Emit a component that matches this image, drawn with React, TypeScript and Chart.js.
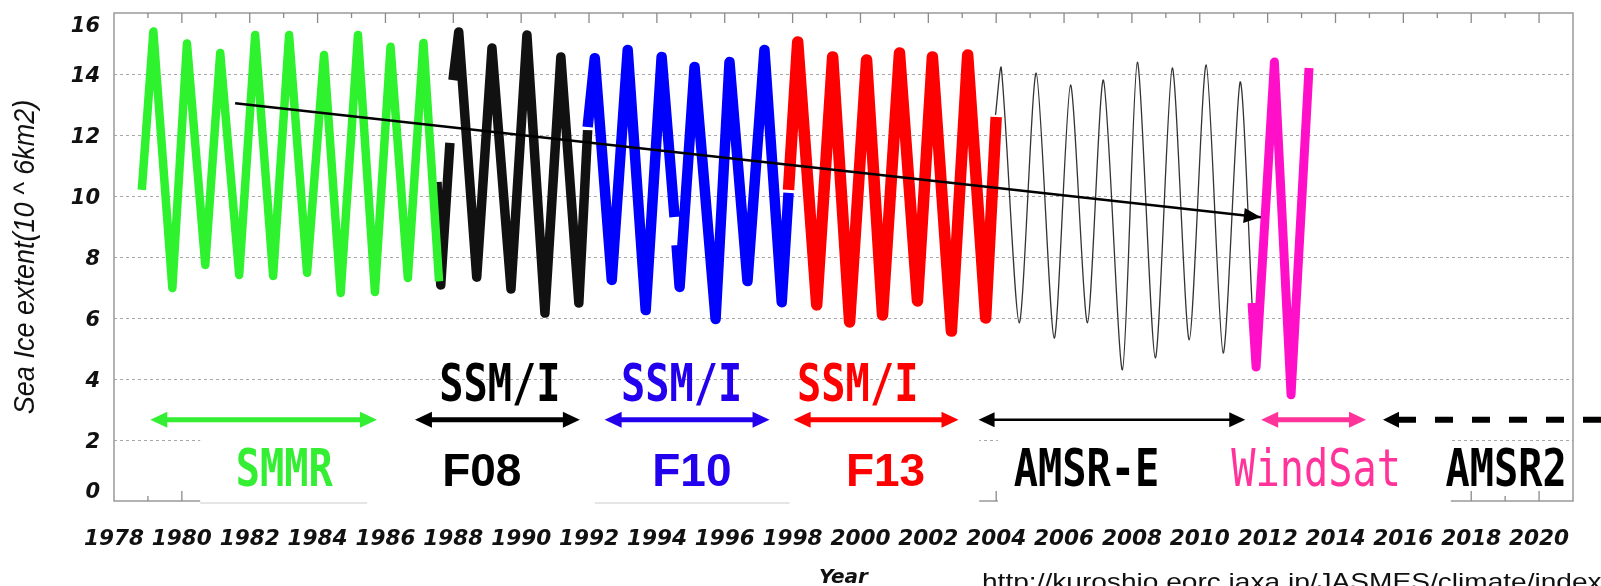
import React, { useEffect, useRef } from "react";
import { Chart, registerables } from "chart.js";

Chart.register(...registerables);

// ---------------- data ----------------
const smmrYears = [1978.82, 1979.16, 1979.72, 1980.15, 1980.69, 1981.13, 1981.69, 1982.16, 1982.69, 1983.16, 1983.69, 1984.19, 1984.68, 1985.19, 1985.69, 1986.15, 1986.66, 1987.12, 1987.58];
const smmrExtent = [10.2, 15.39, 6.98, 15.0, 7.74, 14.69, 7.41, 15.28, 7.38, 15.28, 7.48, 14.62, 6.82, 15.28, 6.85, 14.89, 7.31, 15.02, 7.2];

const f08Years = [1987.52, 1987.63, 1987.9, 1987.95, 1987.99, 1988.16, 1988.69, 1989.14, 1989.7, 1990.17, 1990.7, 1991.17, 1991.7, 1991.96];
const f08Extent = [10.46, 7.08, 11.74, null, 13.8, 15.38, 7.34, 14.85, 6.95, 15.28, 6.16, 14.56, 6.49, 12.16];

const f10Years = [1991.96, 1992.17, 1992.67, 1993.14, 1993.67, 1994.14, 1994.52, 1994.55, 1994.58, 1994.67, 1995.11, 1995.73, 1996.14, 1996.67, 1997.17, 1997.68, 1997.88];
const f10Extent = [12.26, 14.52, 7.25, 14.79, 6.26, 14.56, 9.31, null, 8.39, 7.02, 14.23, 5.97, 14.39, 7.21, 14.79, 6.52, 10.1];

const f13Years = [1997.88, 1998.15, 1998.71, 1999.18, 1999.68, 2000.18, 2000.65, 2001.15, 2001.68, 2002.12, 2002.68, 2003.16, 2003.69, 2004.0];
const f13Extent = [10.2, 15.05, 6.43, 14.56, 5.87, 14.46, 6.1, 14.69, 6.56, 14.56, 5.57, 14.62, 6.0, 12.59];

const amsreYears = [2003.98, 2004.15, 2004.68, 2005.18, 2005.71, 2006.19, 2006.69, 2007.16, 2007.72, 2008.16, 2008.69, 2009.19, 2009.69, 2010.19, 2010.69, 2011.19, 2011.54];
const amsreExtent = [12.66, 14.2, 5.84, 14.03, 5.34, 13.64, 5.84, 13.8, 4.3, 14.39, 4.69, 14.2, 5.28, 14.3, 4.85, 13.74, 6.49];

const windsatYears = [2011.54, 2011.66, 2012.2, 2012.69, 2013.22];
const windsatExtent = [6.49, 4.39, 14.39, 3.48, 14.2];

const trendYears = [1981.57, 2011.8];
const trendExtent = [13.04, 9.3];

// axis labels
const yearLabels = ["1978", "1980", "1982", "1984", "1986", "1988", "1990", "1992", "1994", "1996", "1998", "2000", "2002", "2004", "2006", "2008", "2010", "2012", "2014", "2016", "2018", "2020"];
const yTickLabels = ["0", "2", "4", "6", "8", "10", "12", "14", "16"];

// sensor annotations (years of arrow ends, label centres)
const sensorNames = ["SMMR", "F08", "F10", "F13", "AMSR-E", "WindSat", "AMSR2"];
const sensorStart = [1979.07, 1986.87, 1992.46, 1998.03, 2003.48, 2011.81, 2015.4];
const sensorEnd = [1985.75, 1991.73, 1997.32, 2002.89, 2011.34, 2014.9, 2023.5];
const sensorLabelCenter = [1983.02, 1988.84, 1995.03, 2000.74, 2006.66, 2013.43, 2019.03];
const sensorColors = ["#33ee33", "#000000", "#2200ee", "#ff0000", "#000000", "#ff3399", "#000000"];
const ssmiCenters = [1989.37, 1994.73, 1999.92];
const ssmiColors = ["#000000", "#2200ee", "#ff0000"];

const pts = (xs: number[], ys: (number | null)[]) => xs.map((x, i) => ({ x, y: ys[i] }));

function drawText(ctx: any, text: string, x: number, y: number, font: string, color: string, align: CanvasTextAlign, sx = 1, baseline: CanvasTextBaseline = "alphabetic") {
  ctx.save();
  ctx.translate(x, y);
  ctx.scale(sx, 1);
  ctx.font = font;
  ctx.fillStyle = color;
  ctx.textAlign = align;
  ctx.textBaseline = baseline;
  ctx.fillText(text, 0, 0);
  ctx.restore();
}

function head(ctx: any, tx: number, ty: number, ang: number, len: number, half: number, color: string) {
  ctx.save();
  ctx.translate(tx, ty);
  ctx.rotate(ang);
  ctx.beginPath();
  ctx.moveTo(0, 0);
  ctx.lineTo(-len, -half);
  ctx.lineTo(-len, half);
  ctx.closePath();
  ctx.fillStyle = color;
  ctx.fill();
  ctx.restore();
}

function seg(ctx: any, x1: number, y1: number, x2: number, y2: number) {
  ctx.beginPath();
  ctx.moveTo(x1, y1);
  ctx.lineTo(x2, y2);
  ctx.stroke();
}

const overlay = {
  id: "overlay",
  beforeDraw(chart: any) {
    const { ctx, width, height } = chart;
    ctx.save();
    ctx.fillStyle = "#ffffff";
    ctx.fillRect(0, 0, width, height);
    ctx.restore();
  },
  afterDatasetsDraw(chart: any) {
    const { ctx, chartArea: a } = chart;
    const xs = chart.scales.x;
    const ys = chart.scales.y;
    const X = (v: number) => xs.getPixelForValue(v);
    const Y = (v: number) => ys.getPixelForValue(v);
    ctx.save();

    // trend arrow head
    {
      const x1 = X(trendYears[0]), y1 = Y(trendExtent[0]);
      const x2 = X(trendYears[1]), y2 = Y(trendExtent[1]);
      head(ctx, x2, y2, Math.atan2(y2 - y1, x2 - x1), 17, 7.5, "#000");
    }

    // frame
    ctx.strokeStyle = "#999999";
    ctx.lineWidth = 1.5;
    ctx.strokeRect(a.left, a.top, a.right - a.left, a.bottom - a.top);

    // tick marks top and bottom (inside)
    ctx.lineWidth = 1.3;
    ctx.strokeStyle = "#8a8a8a";
    for (let yr = 1979; yr <= 2020; yr++) {
      const px = X(yr);
      const len = yr % 2 === 0 ? 10 : 5;
      seg(ctx, px, a.top, px, a.top + len);
      seg(ctx, px, a.bottom, px, a.bottom - len);
    }

    // white label boxes
    const boxTop = Y(2.39);
    const boxBottom = a.bottom + 6;
    ctx.fillStyle = "#ffffff";
    [[1980.54, 2003.5], [2004.05, 2017.4]].forEach(([s, e]) => {
      ctx.fillRect(X(s), boxTop, X(e) - X(s), boxBottom - boxTop);
    });
    // faint box edges
    ctx.strokeStyle = "#dddddd";
    ctx.lineWidth = 1.5;
    [[1980.54, 1985.46], [1992.17, 1997.91]].forEach(([s, e]) => {
      seg(ctx, X(s), a.bottom + 2, X(e), a.bottom + 2);
    });

    // sensor arrows
    const ay = Y(2.66);
    sensorNames.forEach((name, i) => {
      const x1 = X(sensorStart[i]);
      const x2 = X(sensorEnd[i]);
      const c = sensorColors[i];
      ctx.strokeStyle = c;
      if (name === "AMSR2") {
        head(ctx, x1, ay, Math.PI, 16, 8, c);
        ctx.save();
        ctx.lineWidth = 6;
        ctx.setLineDash([18, 19]);
        seg(ctx, x1 + 15, ay, x2, ay);
        ctx.restore();
      } else if (name === "AMSR-E") {
        ctx.lineWidth = 2.5;
        seg(ctx, x1 + 12, ay, x2 - 12, ay);
        head(ctx, x1, ay, Math.PI, 16, 7.5, c);
        head(ctx, x2, ay, 0, 16, 7.5, c);
      } else {
        ctx.lineWidth = 5;
        seg(ctx, x1 + 12, ay, x2 - 12, ay);
        head(ctx, x1, ay, Math.PI, 17, 8, c);
        head(ctx, x2, ay, 0, 17, 8, c);
      }
    });

    // sensor labels
    const mono = (w: string) => `${w} 51px 'DejaVu Sans Mono'`;
    const lb = Y(0.5);
    sensorNames.forEach((name, i) => {
      const cx = X(sensorLabelCenter[i]);
      const c = sensorColors[i];
      if (name.startsWith("F")) {
        drawText(ctx, name, cx, lb, "bold 46px 'Liberation Sans'", c, "center");
      } else if (name === "WindSat") {
        drawText(ctx, name, cx, lb, mono("normal"), c, "center", 0.79);
      } else {
        drawText(ctx, name, cx, lb, mono("bold"), c, "center", 0.79);
      }
    });
    ssmiCenters.forEach((cyr, i) => {
      drawText(ctx, "SSM/I", X(cyr), Y(3.28), mono("bold"), ssmiColors[i], "center", 0.79);
    });

    // x tick labels
    yearLabels.forEach((lab) => {
      drawText(ctx, lab, X(Number(lab)), a.bottom + 44, "italic bold 22px 'DejaVu Sans'", "#111", "center", 0.98);
    });
    // y tick labels
    yTickLabels.forEach((lab) => {
      const py = Math.max(a.top + 14, Math.min(a.bottom - 8.5, Y(Number(lab)) + 3));
      drawText(ctx, lab, a.left - 14, py, "italic bold 21px 'DejaVu Sans'", "#111", "right", 1, "middle");
    });

    // axis titles
    drawText(ctx, "Year", (a.left + a.right) / 2, 583, "italic bold 20px 'DejaVu Sans'", "#111", "center");
    ctx.save();
    ctx.translate(26, (a.top + a.bottom) / 2);
    ctx.rotate(-Math.PI / 2);
    ctx.scale(1, 1.1);
    ctx.font = "italic 27px 'Liberation Sans'";
    ctx.fillStyle = "#111";
    ctx.textAlign = "center";
    ctx.textBaseline = "middle";
    ctx.fillText("Sea Ice extent(10 ^ 6km2)", 0, 0);
    ctx.restore();

    // source url
    drawText(ctx, "http://kuroshio.eorc.jaxa.jp/JASMES/climate/index", 982, 590, "24px 'Liberation Sans'", "#111", "left", 1.17);

    ctx.restore();
  },
};

export default function App() {
  const ref = useRef<HTMLCanvasElement>(null);
  useEffect(() => {
    const canvas = ref.current;
    if (!canvas) return;
    const thick = (label: string, xs: number[], ys: (number | null)[], color: string, w: number) => ({
      label,
      data: pts(xs, ys),
      borderColor: color,
      backgroundColor: color,
      borderWidth: w,
      borderJoinStyle: "round",
      borderCapStyle: "butt",
      tension: 0,
      spanGaps: false,
      pointRadius: 0,
      order: 2,
    });
    const chart = new Chart(canvas, {
      type: "line",
      data: {
        datasets: [
          {
            label: "trend",
            data: pts(trendYears, trendExtent),
            borderColor: "#000",
            borderWidth: 2.5,
            pointRadius: 0,
            order: 0,
          },
          thick("SMMR", smmrYears, smmrExtent, "#2ef22e", 8.5),
          thick("SSM/I F08", f08Years, f08Extent, "#111111", 9.5),
          thick("SSM/I F10", f10Years, f10Extent, "#0000ff", 10.5),
          thick("SSM/I F13", f13Years, f13Extent, "#ff0000", 11.5),
          {
            label: "AMSR-E",
            data: pts(amsreYears, amsreExtent),
            borderColor: "#333333",
            borderWidth: 1.3,
            tension: 0.25,
            pointRadius: 0,
            order: 1,
          },
          thick("WindSat", windsatYears, windsatExtent, "#ff10c8", 9),
        ] as any,
      },
      options: {
        animation: false,
        responsive: false,
        devicePixelRatio: 1,
        layout: { padding: { left: 114, top: 13, right: 28, bottom: 85 } },
        plugins: { legend: { display: false }, tooltip: { enabled: false } },
        elements: { point: { radius: 0 } },
        scales: {
          x: {
            type: "linear",
            min: 1978,
            max: 2021,
            ticks: { display: false, stepSize: 1 },
            grid: { display: false, drawTicks: false },
            border: { display: false },
          },
          y: {
            type: "linear",
            min: 0,
            max: 16,
            ticks: { display: false, stepSize: 2 },
            grid: {
              drawTicks: false,
              lineWidth: 1,
              color: (c: any) => (c.tick && (c.tick.value === 0 || c.tick.value === 16) ? "rgba(0,0,0,0)" : "#a8a8a8"),
            },
            border: { display: false, dash: [3, 3] },
          },
        },
      } as any,
      plugins: [overlay],
    });
    return () => chart.destroy();
  }, []);
  return (
    <div style={{ position: "fixed", left: 0, top: 0, width: 1601, height: 586, background: "#ffffff" }}>
      <canvas ref={ref} width={1601} height={586} style={{ display: "block", width: 1601, height: 586 }} />
    </div>
  );
}
